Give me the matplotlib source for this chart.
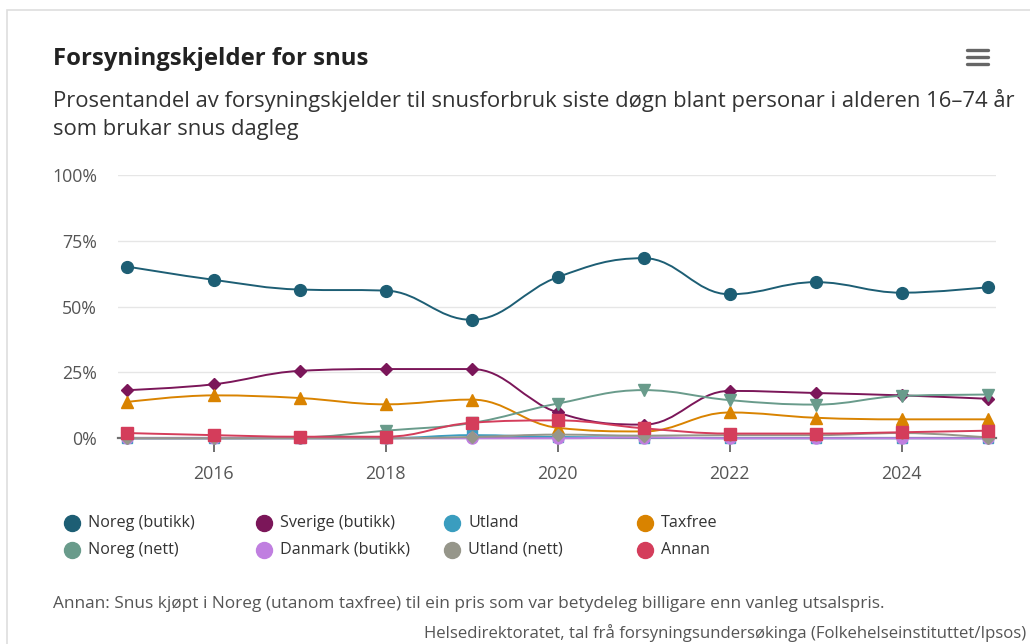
import numpy as np
import matplotlib.pyplot as plt
from matplotlib.path import Path
from matplotlib.patches import PathPatch, Rectangle
from matplotlib.lines import Line2D

plt.rcParams['font.family'] = ['Open Sans', 'DejaVu Sans']

# data (percent)
years = [2015, 2016, 2017, 2018, 2019, 2020, 2021, 2022, 2023, 2024, 2025]
noreg_butikk = [65.2, 60.2, 56.5, 56.1, 45.0, 61.2, 68.4, 54.7, 59.3, 55.3, 57.4]
sverige_butikk = [18.3, 20.5, 25.6, 26.3, 26.3, 9.8, 5.2, 18.0, 17.2, 16.3, 15.0]
utland = [0.0, 0.0, 0.0, 0.0, 1.2, 0.5, 0.3, 0.0, 0.0, 0.0, 0.0]
taxfree = [13.8, 16.3, 15.3, 12.9, 14.7, 4.0, 2.6, 9.8, 7.8, 7.2, 7.2]
noreg_nett = [0.0, 0.0, 0.3, 2.9, 5.8, 13.2, 18.3, 14.5, 12.8, 16.1, 16.6]
danmark_butikk = [0.0, 0.0, 0.0, 0.0, 0.0, 0.0, 0.3, 0.0, 0.0, 0.0, 0.0]
utland_nett = [0.0, 0.0, 0.0, 0.0, 0.5, 1.4, 1.0, 1.2, 1.2, 2.0, 0.3]
annan = [2.0, 1.2, 0.6, 0.6, 5.9, 6.8, 3.8, 1.8, 1.8, 2.3, 2.9]

names = ["Noreg (butikk)", "Sverige (butikk)", "Utland", "Taxfree",
         "Noreg (nett)", "Danmark (butikk)", "Utland (nett)", "Annan"]
series = [noreg_butikk, sverige_butikk, utland, taxfree,
          noreg_nett, danmark_butikk, utland_nett, annan]
colors = ["#1d5e74", "#7b1659", "#3a9dbf", "#d98300",
          "#699b8b", "#c07fe0", "#96968a", "#d43d5b"]
markers = ["o", "D", "s", "^", "v", "o", "D", "s"]
msizes = [8.5, 6.2, 7.5, 8.5, 8.5, 8, 6.5, 8]


def spline(xs, ys):
    # highcharts style spline: bezier control points
    n = len(xs)
    lc = [None] * n
    rc = [None] * n
    for i in range(1, n - 1):
        px, py = xs[i], ys[i]
        lx, ly = xs[i - 1], ys[i - 1]
        nx, ny = xs[i + 1], ys[i + 1]
        lcx = (1.5 * px + lx) / 2.5
        lcy = (1.5 * py + ly) / 2.5
        rcx = (1.5 * px + nx) / 2.5
        rcy = (1.5 * py + ny) / 2.5
        corr = (rcy - lcy) * (rcx - px) / (rcx - lcx) + py - rcy
        lcy += corr
        rcy += corr
        if lcy > ly and lcy > py:
            lcy = max(ly, py)
            rcy = 2 * py - lcy
        elif lcy < ly and lcy < py:
            lcy = min(ly, py)
            rcy = 2 * py - lcy
        if rcy > ny and rcy > py:
            rcy = max(ny, py)
            lcy = 2 * py - rcy
        elif rcy < ny and rcy < py:
            rcy = min(ny, py)
            lcy = 2 * py - rcy
        lc[i] = (lcx, lcy)
        rc[i] = (rcx, rcy)
    verts = [(xs[0], ys[0])]
    codes = [Path.MOVETO]
    for i in range(1, n):
        c1 = rc[i - 1] if rc[i - 1] else (xs[i - 1], ys[i - 1])
        c2 = lc[i] if lc[i] else (xs[i], ys[i])
        verts += [c1, c2, (xs[i], ys[i])]
        codes += [Path.CURVE4] * 3
    return Path(verts, codes)


W, H = 1030, 644
fig = plt.figure(figsize=(W / 100, H / 100), dpi=100)
fig.patch.set_facecolor("white")

# card border
fig.add_artist(Rectangle((7 / W, -0.1), 1.2, 1 - 10 / H + 0.1, transform=fig.transFigure,
                         fill=False, edgecolor="#dedede", lw=1.2))

left, right = 118 / W, 996 / W
bottom, top = 1 - 438.3 / H, 1 - 175 / H
ax = fig.add_axes([left, bottom, right - left, top - bottom])

x0 = 2015 - (127.5 - 118) / 86.03
x1 = 2025 + (996 - 987.8) / 86.03
ax.set_xlim(x0, x1)
ax.set_ylim(0, 100)

for s in ["top", "right", "left"]:
    ax.spines[s].set_visible(False)
ax.spines["bottom"].set_color("#707070")
ax.spines["bottom"].set_linewidth(1.6)
ax.spines["bottom"].set_zorder(2.5)

ax.set_yticks([0, 25, 50, 75, 100])
ax.set_yticklabels(["0%", "25%", "50%", "75%", "100%"])
ax.yaxis.grid(True, color="#e6e6e6", lw=1)
ax.set_axisbelow(True)
ax.tick_params(axis="y", length=0, pad=15, labelsize=12.8, labelcolor="#555555")

ax.set_xticks([2016, 2018, 2020, 2022, 2024])
ax.set_xticklabels(["2016", "2018", "2020", "2022", "2024"])
ax.tick_params(axis="x", length=10, width=1.4, color="#707070", pad=9,
               labelsize=12.8, labelcolor="#555555")

for i, (vals, c, m, ms) in enumerate(zip(series, colors, markers, msizes)):
    patch = PathPatch(spline(years, vals), fill=False, edgecolor=c, lw=1.4,
                      clip_on=False, zorder=3 + i * 0.1)
    ax.add_patch(patch)
    ax.plot(years, vals, ls="none", marker=m, ms=ms, color=c, mec=c,
            clip_on=False, zorder=3.05 + i * 0.1)

# title and subtitle
fig.text(53 / W, 1 - 59 / H, "Forsyningskjelder for snus", fontsize=17.2, fontweight="bold",
         color="#222222", va="center")
fig.text(53 / W, 1 - 101 / H,
         "Prosentandel av forsyningskjelder til snusforbruk siste døgn blant personar i alderen 16–74 år",
         fontsize=15.8, color="#333333", va="center")
fig.text(53 / W, 1 - 130 / H, "som brukar snus dagleg", fontsize=15.8, color="#333333", va="center")

# menu icon
for yy in [50, 57, 64]:
    fig.add_artist(Line2D([967 / W, 988 / W], [1 - yy / H, 1 - yy / H], transform=fig.transFigure,
                          color="#666666", lw=2.4, solid_capstyle="round"))

# legend
col_x = [72, 264, 452, 645]
row_y = [523, 550]
for k, name in enumerate(names):
    cx = col_x[k % 4]
    cy = row_y[k // 4]
    fig.add_artist(Line2D([cx / W], [1 - cy / H], transform=fig.transFigure, marker="o",
                          ms=11.5, color=colors[k], ls="none"))
    fig.text((cx + 16) / W, 1 - cy / H, name, fontsize=11.6, color="#333333", va="center")

fig.text(53 / W, 1 - 604 / H,
         "Annan: Snus kjøpt i Noreg (utanom taxfree) til ein pris som var betydeleg billigare enn vanleg utsalspris.",
         fontsize=12.4, color="#555555", va="center")
fig.text(1026 / W, 1 - 633 / H,
         "Helsedirektoratet, tal frå forsyningsundersøkinga (Folkehelseinstituttet/Ipsos)",
         fontsize=12.1, color="#555555", va="center", ha="right")

fig.savefig("out.png", dpi=100)
